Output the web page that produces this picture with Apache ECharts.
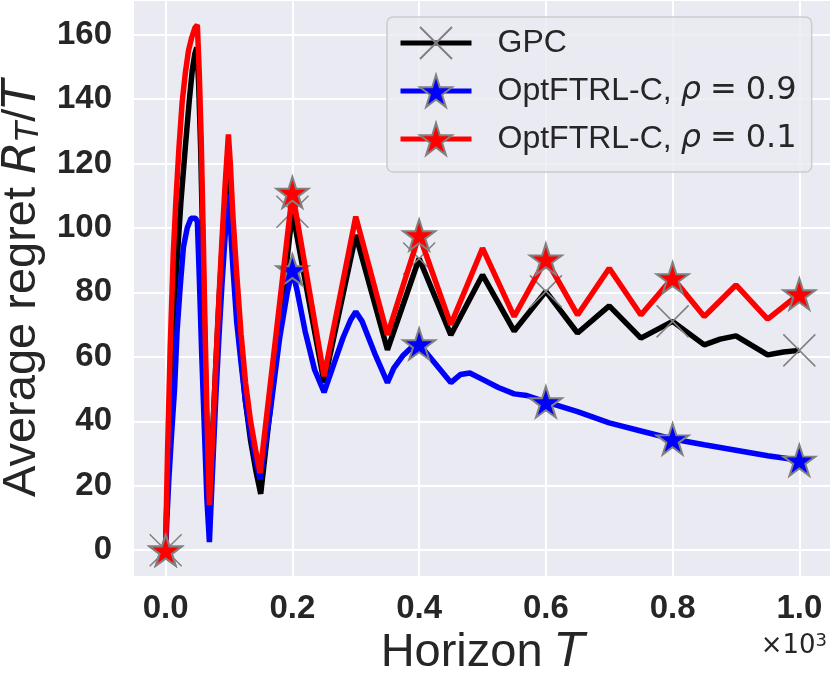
<!DOCTYPE html>
<html><head><meta charset="utf-8">
<script src="https://cdn.jsdelivr.net/npm/echarts@6/dist/echarts.min.js"></script>
<style>html,body{margin:0;padding:0;background:#fff}#c{width:830px;height:679px}</style>
</head><body><div id="c"></div>
<script>
const xTicks = [0, 200, 400, 600, 800, 1000];
const yTicks = [0, 20, 40, 60, 80, 100, 120, 140, 160];
const markT = [0, 200, 400, 600, 800, 1000];

const gpcT = [0,1,4,8,13,18,24,31,37,42,46,49,52,55,58,61,64,69,74,79,84,89,94,99,102,106,112,119,126,134,142,150,200,250,300,350,400,450,500,550,600,650,700,750,800,850,875,900,950,975,1000];
const gpcV = [0,10,25,50,75,90,108,125,139,149,154,156,145,126,100,72,45,15,36,57,77,94,107,117,109,94,78,60,46,34,25,17.5,105,52,97.8,62.2,90.5,66.8,85.4,68,80.3,67.4,75.8,65.8,71,63.7,65.5,66.5,60.6,61.5,62];

const blueT = [0,2,5,9,14,18,23,28,34,40,47,50,53,57,61,65,69,74,79,84,89,94,99,102,106,112,119,126,134,142,149,165,180,192,200,208,220,235,250,265,280,292,300,310,330,350,360,375,390,400,425,450,465,480,500,525,550,570,600,650,700,750,800,850,900,950,1000];
const blueV = [0,10,22,35,50,68,82,94,100,103,103,102,85,60,38,16,2.5,25,47,66,83,98,110.5,101,88,71,58,46,36,28,22,43,66,80,87,80,68,56,49,57.5,66,71.5,74,71,61,52,56.5,60.5,63.3,64,58,52,54.5,55,53,50.5,48.5,48,46,43,39.5,37,34.5,32.7,31,29.3,27.9];

const redT = [0,1,3,7,12,16,21,26,31,36,41,46,50,53,56,59,62,65,69,74,79,84,89,94,99,102,106,112,119,126,134,142,149,200,250,300,350,400,450,500,550,600,650,700,750,800,850,900,950,1000];
const redV = [0,12,31,62,92,108,125,139,148,155,159,162,163,148,128,100,70,43,14,35,57,78,97,114,129,120,104,86,67,52,40,31,24,111,54,103.5,66.8,97.8,70,93.7,72.5,90.3,73,87.5,73,84.5,72.5,82.3,71.7,79.5];

const names = ['GPC', 'OptFTRL-C, ρ = 0.9', 'OptFTRL-C, ρ = 0.1'];

const XPATH = 'path://M0,0L10,10M10,0L0,10';
const STAR = 'path://M50,0L61.22,34.55L97.55,34.55L68.15,55.9L79.4,90.45L50,69.1L20.6,90.45L31.85,55.9L2.45,34.55L38.78,34.55Z';

function build(T, V) {
  return T.map((t, i) => markT.includes(t) ? { value: [t, V[i]] } : { value: [t, V[i]], symbol: 'none' });
}

const FONT = 'Liberation Sans';
const TXT = '#262626';

const chart = echarts.init(document.getElementById('c'), null, { renderer: 'canvas' });
chart.setOption({
  animation: false,
  backgroundColor: '#ffffff',
  grid: { left: 134, top: 1, width: 697, height: 575, backgroundColor: '#EAEAF2', show: true, borderWidth: 0, outerBoundsMode: 'none', containLabel: false },
  xAxis: {
    type: 'value', min: -50, max: 1050,
    axisLine: { show: false },
    axisTick: { show: false, customValues: xTicks },
    axisLabel: { customValues: xTicks, formatter: v => (v / 1000).toFixed(1), fontSize: 33, fontWeight: 'bold', color: TXT, fontFamily: FONT, margin: 16 },
    splitLine: { show: true, lineStyle: { color: '#ffffff', width: 2 } },
    name: 'Horizon {i|T}', nameLocation: 'middle', nameGap: 49,
    nameTextStyle: { fontSize: 47, color: TXT, fontFamily: FONT, rich: { i: { fontSize: 47, color: TXT, fontFamily: 'DejaVu Sans', fontStyle: 'italic' } } }
  },
  yAxis: {
    type: 'value', min: -8.0, max: 170.4,
    axisLine: { show: false },
    axisTick: { show: false, customValues: yTicks },
    axisLabel: { customValues: yTicks, formatter: v => String(v), fontSize: 33, fontWeight: 'bold', color: TXT, fontFamily: FONT, margin: 22 },
    splitLine: { show: true, lineStyle: { color: '#ffffff', width: 2 } },
    name: 'Average regret {i|R}{s|T}/{i|T}', nameLocation: 'middle', nameGap: 86,
    nameTextStyle: {
      fontSize: 47, color: TXT, fontFamily: FONT, lineHeight: 47, padding: [0, 0, 0, 0],
      rich: {
        i: { fontSize: 47, lineHeight: 47, color: TXT, fontFamily: 'DejaVu Sans', fontStyle: 'italic' },
        s: { fontSize: 32, lineHeight: 32, color: TXT, fontFamily: 'DejaVu Sans', fontStyle: 'italic', verticalAlign: 'bottom', padding: [16, 0, 0, 0] }
      }
    }
  },
  legend: {
    orient: 'vertical', left: 387, top: 17,
    padding: [9, 15, 16, 11], itemGap: 14, itemWidth: 71, itemHeight: 40,
    backgroundColor: 'rgba(234,234,242,0.8)', borderColor: '#cccccc', borderWidth: 1.5, borderRadius: 6,
    selectedMode: false,
    data: names,
    lineStyle: { width: 5 },
    formatter: n => n === 'GPC' ? '{t|GPC}' : '{t|OptFTRL-C, }{r|ρ}{e|=}{m|' + n.slice(-3) + '}',
    textStyle: {
      padding: [0, 0, 0, 21], color: TXT,
      rich: {
        t: { fontFamily: FONT, fontSize: 32, color: TXT },
        r: { fontFamily: 'DejaVu Sans', fontStyle: 'italic', fontSize: 32, color: TXT },
        e: { fontFamily: 'DejaVu Sans', fontSize: 32, color: TXT, padding: [0, 9, 0, 9] },
        m: { fontFamily: 'DejaVu Sans', fontSize: 32, color: TXT }
      }
    }
  },
  graphic: [{
    type: 'text', right: 3, top: 632, z: 10,
    style: {
      text: '×10{s|3}', fontSize: 26, fill: TXT, fontFamily: 'DejaVu Sans',
      rich: { s: { fontSize: 18, fontFamily: 'DejaVu Sans', fill: TXT, verticalAlign: 'top', padding: [0, 0, 10, 0] } }
    }
  }],
  series: [
    {
      name: names[0], type: 'line', z: 2, color: '#000000',
      data: build(gpcT, gpcV),
      symbol: XPATH, symbolSize: 32,
      lineStyle: { color: '#000000', width: 5.5 },
      itemStyle: { color: '#808080', borderColor: '#808080', borderWidth: 1.5 }
    },
    {
      name: names[1], type: 'line', z: 3, color: '#0000ff',
      data: build(blueT, blueV),
      symbol: STAR, symbolSize: [32, 31],
      lineStyle: { color: '#0000ff', width: 5.5 },
      itemStyle: { color: '#0000ff', borderColor: '#808080', borderWidth: 2 }
    },
    {
      name: names[2], type: 'line', z: 4, color: '#ff0000',
      data: build(redT, redV),
      symbol: STAR, symbolSize: [32, 31],
      lineStyle: { color: '#ff0000', width: 5.5 },
      itemStyle: { color: '#ff0000', borderColor: '#808080', borderWidth: 2 }
    }
  ]
});
</script></body></html>
